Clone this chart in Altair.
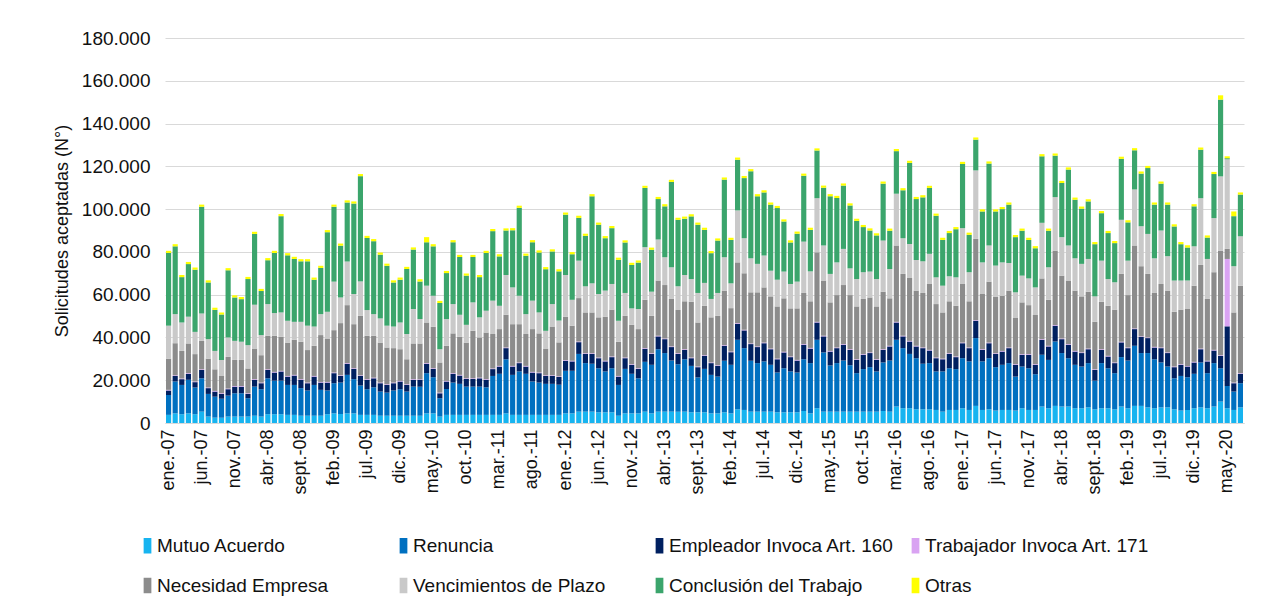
import altair as alt
import pandas as pd

MESES = ["ene.", "feb.", "mar.", "abr.", "may.", "jun.", "jul.", "ago.", "sept.", "oct.", "nov.", "dic."]
N_MESES = 163  # ene.-07 ... jul.-20
categorias = [f"{MESES[i % 12]}-{(2007 + i // 12) % 100:02d}" for i in range(N_MESES)]
etiquetas = categorias[::5]

SERIES = ["Mutuo Acuerdo", "Renuncia", "Empleador Invoca Art. 160", "Trabajador Invoca Art. 171",
          "Necesidad Empresa", "Vencimientos de Plazo", "Conclusión del Trabajo", "Otras"]
COLORES = ["#17B4F0", "#0070C0", "#002060", "#D9A3F2", "#8C8C8C", "#C9C9C9", "#3BA56C", "#FFFF00"]

# values in thousands of requests, one row per year (2007 ... 2020)
mutuo = [
    3.8, 4.5, 4.1, 4.5, 4.1, 5.3, 3.0, 2.5, 2.5, 3.0, 3.0, 3.0,
    3.0, 3.4, 3.0, 4.1, 4.1, 4.1, 3.8, 3.8, 3.4, 3.4, 3.4, 3.4,
    4.1, 4.5, 4.2, 4.5, 4.5, 3.8, 3.8, 3.8, 3.4, 3.4, 3.4, 3.4,
    3.4, 3.4, 3.4, 4.5, 4.5, 3.0, 3.8, 3.8, 3.8, 3.8, 3.8, 3.8,
    3.8, 3.8, 3.8, 4.5, 3.8, 3.8, 3.8, 3.8, 3.8, 3.8, 3.8, 3.8,
    4.5, 4.5, 5.3, 5.3, 5.3, 5.0, 5.0, 5.0, 3.4, 4.5, 4.5, 4.5,
    5.3, 4.5, 5.3, 5.3, 5.3, 5.3, 5.3, 5.0, 5.0, 5.0, 4.5, 4.5,
    5.0, 4.5, 6.4, 6.1, 5.3, 5.3, 5.3, 5.3, 5.0, 5.0, 5.0, 5.0,
    5.6, 4.5, 6.9, 5.3, 5.3, 5.3, 5.3, 5.3, 5.3, 5.3, 5.3, 5.3,
    5.6, 5.3, 7.7, 6.9, 6.9, 6.4, 6.4, 6.4, 6.1, 5.3, 6.1, 6.1,
    6.9, 6.1, 8.0, 6.1, 6.4, 5.8, 6.1, 6.1, 5.8, 6.9, 6.1, 6.1,
    7.7, 6.9, 8.0, 7.7, 7.7, 6.9, 6.9, 7.3, 6.4, 6.9, 6.9, 6.4,
    7.7, 6.9, 8.0, 8.0, 7.3, 6.9, 7.3, 7.3, 6.4, 5.8, 6.1, 6.9,
    7.3, 6.9, 7.7, 10.0, 6.9, 6.1, 7.3,
]
renuncia = [
    9.3, 14.9, 13.7, 15.7, 12.5, 15.6, 10.6, 9.8, 8.8, 9.8, 10.9, 10.9,
    8.6, 13.6, 12.8, 16.8, 15.7, 15.7, 14.0, 14.0, 12.9, 11.8, 14.4, 12.1,
    11.1, 14.1, 14.7, 18.0, 16.0, 13.7, 12.0, 12.9, 11.3, 10.8, 11.8, 12.4,
    11.3, 13.6, 13.6, 18.8, 16.9, 8.6, 12.1, 15.1, 14.5, 13.2, 13.2, 13.2,
    12.9, 18.2, 19.2, 25.3, 18.7, 20.3, 19.2, 15.6, 15.1, 14.5, 14.5, 14.1,
    19.9, 19.9, 27.0, 22.7, 22.4, 20.6, 19.1, 20.6, 14.4, 20.8, 18.5, 16.4,
    23.3, 22.7, 29.2, 27.4, 23.9, 22.2, 24.5, 21.7, 16.3, 20.3, 18.0, 17.2,
    24.1, 22.7, 32.5, 28.9, 23.8, 22.7, 23.5, 21.9, 18.6, 20.6, 19.1, 18.6,
    24.2, 23.5, 32.0, 27.7, 21.6, 22.7, 23.9, 21.7, 18.0, 19.9, 20.8, 18.8,
    22.7, 23.9, 31.2, 28.1, 25.4, 23.9, 21.3, 21.6, 18.0, 18.8, 19.5, 19.1,
    23.4, 22.7, 31.7, 22.7, 23.9, 20.3, 21.1, 21.9, 15.9, 19.5, 19.5, 16.7,
    24.2, 22.6, 30.1, 25.0, 22.6, 20.3, 19.5, 20.7, 13.4, 21.1, 18.7, 16.9,
    23.1, 22.3, 28.1, 24.7, 25.4, 22.9, 21.0, 19.1, 14.5, 16.2, 15.3, 16.1,
    21.0, 16.4, 20.3, 15.6, 10.4, 8.6, 11.3,
]
empleador = [
    2.1, 2.6, 2.7, 2.8, 2.5, 3.9, 2.7, 2.4, 2.3, 3.0, 3.1, 3.1,
    2.0, 3.2, 2.8, 3.9, 3.8, 4.3, 3.9, 4.4, 3.9, 3.4, 3.9, 3.4,
    3.7, 4.7, 3.1, 5.2, 4.8, 4.5, 4.4, 4.2, 3.9, 3.6, 3.4, 3.6,
    3.1, 3.2, 3.2, 4.4, 3.9, 2.3, 3.5, 4.1, 3.9, 3.6, 3.6, 3.9,
    3.5, 3.2, 3.4, 5.2, 3.9, 3.9, 3.4, 4.2, 4.4, 3.7, 3.7, 3.6,
    4.7, 4.4, 5.5, 4.3, 4.6, 4.7, 4.7, 5.2, 3.9, 5.0, 4.2, 4.4,
    6.1, 5.1, 6.0, 6.5, 6.3, 4.8, 4.4, 3.6, 4.8, 6.1, 5.5, 5.0,
    7.0, 5.9, 7.5, 8.3, 7.8, 7.5, 8.5, 7.3, 6.2, 7.4, 6.7, 5.6,
    6.8, 6.8, 8.1, 7.5, 6.5, 7.0, 7.4, 7.2, 6.2, 6.7, 6.6, 5.4,
    5.9, 6.6, 8.1, 5.5, 5.8, 5.5, 7.3, 5.9, 6.2, 5.7, 6.7, 5.6,
    7.0, 6.2, 8.1, 5.4, 7.0, 6.2, 6.2, 7.0, 5.5, 5.5, 6.3, 4.4,
    7.0, 6.3, 7.4, 6.5, 6.3, 6.2, 6.3, 6.5, 5.0, 6.2, 5.5, 4.7,
    6.9, 5.8, 7.8, 7.5, 7.0, 5.5, 6.7, 6.3, 5.2, 5.2, 5.0, 5.3,
    6.2, 5.5, 5.9, 5.8, 27.9, 3.9, 4.4,
]
trabajador = [
    0.3, 0.3, 0.3, 0.3, 0.3, 0.3, 0.3, 0.3, 0.3, 0.3, 0.3, 0.3,
    0.3, 0.3, 0.3, 0.3, 0.3, 0.3, 0.3, 0.3, 0.3, 0.3, 0.3, 0.3,
    0.3, 0.3, 0.3, 0.3, 0.3, 0.3, 0.3, 0.3, 0.3, 0.3, 0.3, 0.3,
    0.3, 0.3, 0.3, 0.3, 0.3, 0.3, 0.3, 0.3, 0.3, 0.3, 0.3, 0.3,
    0.3, 0.3, 0.3, 0.3, 0.3, 0.3, 0.3, 0.3, 0.3, 0.3, 0.3, 0.3,
    0.3, 0.3, 0.3, 0.3, 0.3, 0.3, 0.3, 0.3, 0.3, 0.3, 0.3, 0.3,
    0.3, 0.3, 0.3, 0.3, 0.3, 0.3, 0.3, 0.3, 0.3, 0.3, 0.3, 0.3,
    0.3, 0.3, 0.3, 0.3, 0.3, 0.3, 0.3, 0.3, 0.3, 0.3, 0.3, 0.3,
    0.3, 0.3, 0.3, 0.3, 0.3, 0.3, 0.3, 0.3, 0.3, 0.3, 0.3, 0.3,
    0.3, 0.3, 0.3, 0.3, 0.3, 0.3, 0.3, 0.3, 0.3, 0.3, 0.3, 0.3,
    0.3, 0.3, 0.3, 0.3, 0.3, 0.3, 0.3, 0.3, 0.3, 0.3, 0.3, 0.3,
    0.3, 0.3, 0.3, 0.3, 0.3, 0.3, 0.3, 0.3, 0.3, 0.3, 0.3, 0.3,
    0.3, 0.3, 0.3, 0.3, 0.3, 0.3, 0.3, 0.3, 0.3, 0.3, 0.3, 0.3,
    0.3, 0.3, 0.3, 0.3, 31.5, 0.3, 0.3,
]
necesidad = [
    14.6, 15.0, 12.9, 13.9, 12.8, 13.3, 13.5, 10.1, 8.1, 14.8, 12.2, 12.2,
    11.6, 14.3, 12.8, 15.7, 16.9, 15.9, 15.6, 16.4, 17.5, 15.2, 14.1, 21.9,
    20.3, 19.8, 24.4, 27.1, 20.6, 27.8, 20.3, 19.6, 18.7, 17.2, 16.1, 14.8,
    11.7, 16.7, 16.7, 19.0, 19.4, 14.1, 16.4, 18.6, 17.8, 16.7, 22.2, 18.8,
    21.8, 16.1, 17.2, 15.3, 19.5, 17.9, 14.9, 20.0, 18.3, 12.5, 22.8, 15.9,
    20.3, 16.4, 20.3, 19.1, 19.1, 18.8, 20.6, 21.9, 16.0, 19.5, 18.4, 18.3,
    22.6, 17.5, 25.8, 25.0, 22.2, 20.2, 22.4, 26.1, 20.6, 23.1, 21.1, 23.1,
    25.5, 20.3, 28.4, 26.4, 23.9, 25.3, 25.8, 24.4, 24.4, 25.0, 22.5, 24.1,
    23.9, 21.8, 32.5, 25.8, 22.7, 24.5, 27.6, 25.3, 24.7, 25.8, 25.7, 24.7,
    26.9, 22.2, 35.7, 28.9, 29.4, 25.8, 25.5, 30.8, 25.0, 21.6, 24.3, 23.7,
    27.4, 21.6, 38.0, 25.8, 28.5, 26.5, 25.8, 26.6, 21.6, 24.2, 22.9, 23.0,
    28.4, 21.5, 34.8, 29.4, 29.7, 28.2, 26.2, 26.6, 22.2, 22.2, 23.4, 24.7,
    31.7, 24.5, 38.8, 32.8, 29.7, 25.2, 29.7, 28.9, 25.6, 25.5, 26.6, 35.6,
    39.1, 28.9, 36.3, 48.9, 4.7, 32.8, 40.9,
]
vencimientos = [
    15.4, 13.6, 13.3, 12.5, 10.4, 12.8, 9.1, 8.6, 7.5, 9.1, 8.9, 8.5,
    10.9, 20.5, 9.4, 14.8, 10.6, 11.4, 10.2, 8.4, 9.3, 11.4, 9.0, 9.8,
    12.5, 22.7, 12.0, 20.4, 14.1, 16.1, 12.0, 10.1, 11.3, 10.2, 10.1, 12.5,
    11.8, 16.1, 11.4, 17.2, 14.5, 6.2, 12.5, 13.7, 10.3, 8.3, 13.3, 9.4,
    10.2, 15.6, 10.9, 18.6, 17.2, 13.3, 9.3, 13.3, 9.8, 8.3, 10.5, 10.2,
    19.5, 12.1, 17.5, 12.2, 13.6, 10.9, 12.2, 12.0, 9.8, 10.7, 7.7, 9.4,
    24.6, 11.3, 19.2, 13.0, 14.8, 11.1, 12.3, 10.6, 13.8, 10.7, 8.6, 10.7,
    15.6, 11.6, 24.3, 16.4, 15.9, 13.3, 14.9, 12.0, 12.5, 12.5, 11.4, 12.5,
    24.0, 14.0, 25.3, 16.4, 13.3, 15.3, 16.9, 12.5, 12.8, 12.5, 12.1, 12.8,
    23.9, 13.7, 24.2, 16.7, 15.9, 14.3, 14.8, 14.1, 12.5, 12.5, 11.7, 13.3,
    26.1, 13.6, 32.0, 14.8, 16.9, 14.5, 15.6, 12.9, 12.0, 12.5, 12.5, 12.9,
    26.0, 15.2, 25.0, 18.0, 16.4, 15.1, 15.2, 15.3, 11.9, 19.2, 12.5, 12.8,
    25.3, 16.1, 26.2, 18.7, 18.7, 16.2, 25.0, 16.1, 14.6, 13.6, 13.3, 18.4,
    31.2, 18.7, 25.3, 34.7, 41.9, 21.6, 23.1,
]
conclusion = [
    34.0, 31.7, 21.2, 24.6, 29.1, 49.9, 26.5, 19.2, 21.2, 31.4, 20.3, 19.9,
    30.9, 33.1, 20.6, 20.5, 28.1, 45.0, 30.6, 29.4, 28.3, 30.1, 21.9, 21.6,
    37.2, 35.0, 24.2, 27.6, 42.3, 49.2, 33.7, 34.1, 29.8, 28.0, 20.6, 20.0,
    30.4, 27.8, 17.6, 20.3, 23.1, 21.6, 21.5, 28.9, 27.0, 23.0, 21.2, 18.8,
    27.0, 32.5, 23.1, 20.8, 26.7, 41.1, 27.3, 27.3, 28.0, 28.8, 24.6, 23.0,
    28.2, 21.3, 20.0, 23.6, 40.7, 32.4, 24.5, 26.1, 28.5, 23.6, 20.3, 21.7,
    27.7, 19.6, 18.9, 23.8, 39.9, 31.1, 26.3, 29.3, 31.9, 24.8, 21.4, 24.5,
    36.3, 20.3, 23.7, 28.1, 40.7, 31.6, 29.5, 30.9, 33.5, 23.4, 19.4, 22.4,
    30.8, 19.4, 22.3, 27.0, 36.3, 30.1, 29.6, 29.4, 27.2, 21.1, 19.2, 20.4,
    26.6, 17.9, 19.9, 22.4, 37.9, 28.5, 29.9, 30.8, 28.8, 21.4, 20.2, 22.5,
    30.0, 17.5, 14.4, 23.8, 38.3, 25.3, 24.9, 27.3, 25.8, 21.0, 18.0, 18.3,
    31.1, 17.1, 19.4, 25.3, 35.5, 27.4, 25.8, 26.9, 24.4, 22.2, 21.5, 18.3,
    28.5, 17.9, 18.3, 24.6, 30.8, 25.1, 21.9, 24.1, 25.3, 17.0, 15.5, 18.7,
    22.7, 10.0, 20.6, 35.9, 0.5, 23.4, 19.5,
]
otras = [
    1.0, 1.0, 1.0, 1.0, 1.0, 1.0, 1.0, 1.0, 1.0, 1.0, 1.0, 1.0,
    1.0, 1.0, 1.0, 1.0, 1.0, 1.0, 1.0, 1.0, 1.0, 1.0, 1.0, 1.0,
    1.0, 1.0, 1.0, 1.0, 1.0, 1.0, 1.0, 1.0, 1.0, 1.0, 1.0, 1.0,
    1.0, 1.0, 1.0, 2.4, 1.0, 1.0, 1.0, 1.0, 1.0, 1.0, 1.0, 1.0,
    1.0, 1.0, 1.0, 1.0, 1.0, 1.0, 1.0, 1.0, 1.0, 1.0, 1.0, 1.0,
    1.0, 1.0, 1.0, 1.0, 1.0, 1.0, 1.0, 1.0, 1.0, 1.0, 1.0, 1.0,
    1.0, 1.0, 1.0, 1.0, 1.0, 1.0, 1.0, 1.0, 1.0, 1.0, 1.0, 1.0,
    1.0, 1.0, 1.0, 1.0, 1.0, 1.0, 1.0, 1.0, 1.0, 1.0, 1.0, 1.0,
    1.0, 1.0, 1.0, 1.0, 1.0, 1.0, 1.0, 1.0, 1.0, 1.0, 1.0, 1.0,
    1.0, 1.0, 1.0, 1.0, 1.0, 1.0, 1.0, 1.0, 1.0, 1.0, 1.0, 1.0,
    1.0, 1.0, 1.0, 1.0, 1.0, 1.0, 1.0, 1.0, 1.0, 1.0, 1.0, 1.0,
    1.0, 1.0, 1.0, 1.0, 1.0, 1.0, 1.0, 1.0, 1.0, 1.0, 1.0, 1.0,
    1.0, 1.0, 1.0, 1.0, 1.0, 1.0, 1.0, 1.0, 1.0, 1.0, 1.0, 1.0,
    1.0, 1.0, 1.0, 2.0, 0.9, 2.2, 1.0,
]

valores = [mutuo, renuncia, empleador, trabajador, necesidad, vencimientos, conclusion, otras]

filas = []
for k, (serie, vals) in enumerate(zip(SERIES, valores)):
    for i, v in enumerate(vals):
        filas.append({"mes": categorias[i], "serie": serie, "orden": k, "valor": v})
df = pd.DataFrame(filas)

FUENTE = "Liberation Sans"

chart = alt.Chart(df).mark_bar().encode(
    x=alt.X(
        "mes:N",
        sort=categorias,
        scale=alt.Scale(paddingInner=0.22, paddingOuter=0.15),
        axis=alt.Axis(
            values=etiquetas, labelAngle=-90, title=None, ticks=False,
            domainColor="#D9D9D9", labelPadding=6, labelFontSize=18,
            labelFont=FUENTE, labelColor="#111111", grid=False,
        ),
    ),
    y=alt.Y(
        "valor:Q",
        stack="zero",
        scale=alt.Scale(domain=[0, 180], nice=False),
        axis=alt.Axis(
            values=[0, 20, 40, 60, 80, 100, 120, 140, 160, 180],
            labelExpr="replace(format(datum.value * 1000, ','), ',', '.')",
            title="Solicitudes aceptadas (N°)", titleFont=FUENTE, titleFontSize=18,
            titleFontWeight="normal", titleColor="#111111", titlePadding=10,
            labelFont=FUENTE, labelFontSize=19, labelColor="#111111", labelPadding=15,
            ticks=False, domain=False, grid=True, gridColor="#D9D9D9", gridWidth=1,
        ),
    ),
    color=alt.Color(
        "serie:N",
        scale=alt.Scale(domain=SERIES, range=COLORES),
        legend=alt.Legend(
            title=None, orient="none", legendX=-27, legendY=498,
            direction="horizontal", columns=4, gridAlign="all",
            columnPadding=12, rowPadding=20,
            symbolType="M-0.5,-1H0.5V1H-0.5Z", symbolSize=240, symbolStrokeWidth=0,
            labelFont=FUENTE, labelFontSize=19, labelColor="#111111",
            labelLimit=400, labelOffset=0,
        ),
    ),
    order=alt.Order("orden:Q", sort="ascending"),
).properties(
    width=1079,
    height=385,
    autosize=alt.AutoSizeParams(type="none"),
    padding={"left": 157, "top": 30, "right": 10, "bottom": 183},
).configure_view(stroke=None)

chart.save("out.html", embed_options={"renderer": "svg", "actions": False})
